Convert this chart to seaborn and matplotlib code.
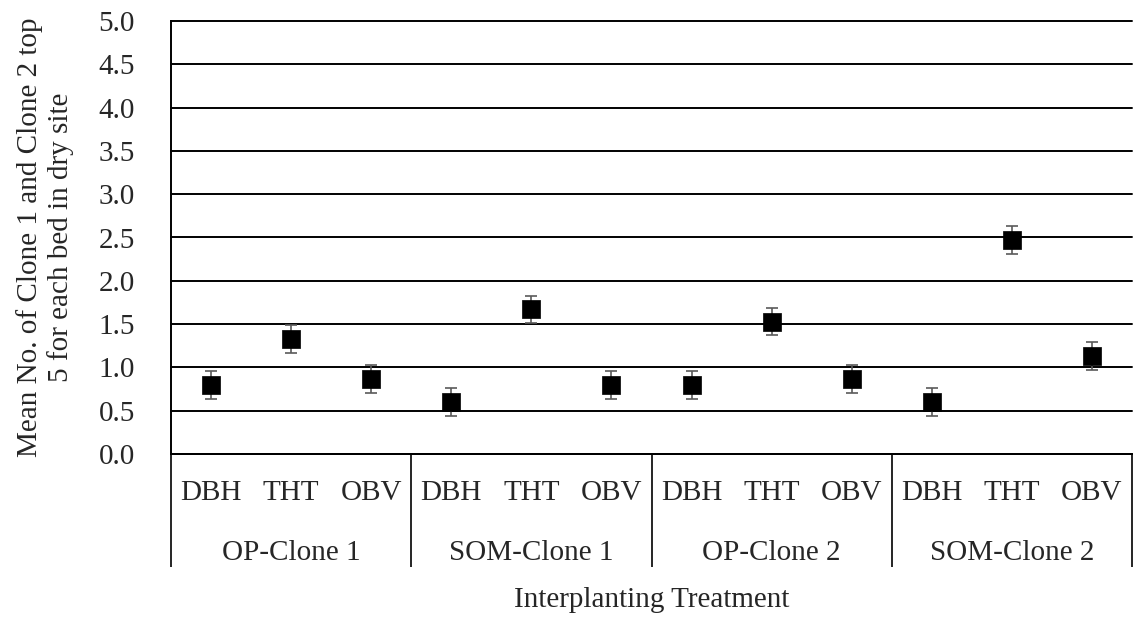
import numpy as np
import pandas as pd
import matplotlib
matplotlib.use("Agg")
import matplotlib.pyplot as plt
import matplotlib.transforms as mtransforms
import seaborn as sns

# Treatments (outer groups) and traits (inner categories)
treatments = ["OP-Clone 1", "SOM-Clone 1", "OP-Clone 2", "SOM-Clone 2"]
traits = ["DBH", "THT", "OBV"]

# Mean number of top-5 clones per bed, one value per treatment x trait
means = [0.80, 1.33, 0.87,
         0.60, 1.67, 0.80,
         0.80, 1.53, 0.87,
         0.60, 2.47, 1.13]
# Standard errors
errors = [0.16, 0.16, 0.16,
          0.16, 0.16, 0.16,
          0.16, 0.16, 0.16,
          0.16, 0.16, 0.16]

y_ticks = [0.0, 0.5, 1.0, 1.5, 2.0, 2.5, 3.0, 3.5, 4.0, 4.5, 5.0]

df = pd.DataFrame({
    "treatment": np.repeat(treatments, len(traits)),
    "trait": traits * len(treatments),
    "mean": means,
    "se": errors,
})
df["pos"] = np.arange(len(df))

sns.set_theme(style="white")
plt.rcParams["font.family"] = ["Liberation Serif", "DejaVu Serif"]
FS = 21

W, H = 1135, 619
fig = plt.figure(figsize=(W / 100, H / 100), dpi=100)
ax = fig.add_axes([171 / W, 1 - 454 / H, (1132 - 171) / W, (454 - 21) / H])

# Error bars behind, square markers on top
ax.errorbar(df["pos"], df["mean"], yerr=df["se"], fmt="none",
            ecolor="#5a5a5a", elinewidth=1.2, capsize=4, capthick=1.2, zorder=3)
sns.scatterplot(data=df, x="pos", y="mean", marker="s", s=150, color="black",
                edgecolor="black", linewidth=0.5, ax=ax, zorder=4, legend=False)

ax.set_xlim(-0.5, len(df) - 0.5)
ax.set_ylim(0, 5)
ax.set_yticks(y_ticks)
ax.set_yticklabels([f"{v:.1f}" for v in y_ticks], fontsize=FS)
ax.yaxis.grid(True, color="black", linewidth=1.4)
for gl in ax.get_ygridlines():
    gl.set_clip_on(False)
ax.set_axisbelow(True)

ax.set_xticks(df["pos"])
ax.set_xticklabels(df["trait"], fontsize=FS)
ax.tick_params(axis="x", length=0, pad=19)
ax.tick_params(axis="y", length=0, pad=26)

for side in ["top", "right"]:
    ax.spines[side].set_visible(False)
for side in ["left", "bottom"]:
    ax.spines[side].set_color("black")
    ax.spines[side].set_linewidth(1.4)

# Grouped category axis below the plot
trans = mtransforms.blended_transform_factory(ax.transData, ax.transAxes)
n_tr = len(traits)
bounds = [i * n_tr - 0.5 for i in range(len(treatments) + 1)]
ax.vlines(bounds, -0.261, 0, transform=trans, colors="black",
          linewidth=1.2, clip_on=False)
for i, name in enumerate(treatments):
    ax.text(i * n_tr + (n_tr - 1) / 2, -0.2448, name, transform=trans,
            ha="center", va="baseline", fontsize=FS)

ax.set_xlabel("Interplanting Treatment", fontsize=FS, va="baseline")
ax.xaxis.set_label_coords(0.5, (454 - 607) / 433)
ax.set_ylabel("Mean No. of Clone 1 and Clone 2 top\n5 for each bed in dry site",
              fontsize=FS, va="center", ha="center", multialignment="center",
              linespacing=1.15)
ax.yaxis.set_label_coords((45 - 171) / 961, 0.5)

fig.savefig("out.png", dpi=100, facecolor="white")
